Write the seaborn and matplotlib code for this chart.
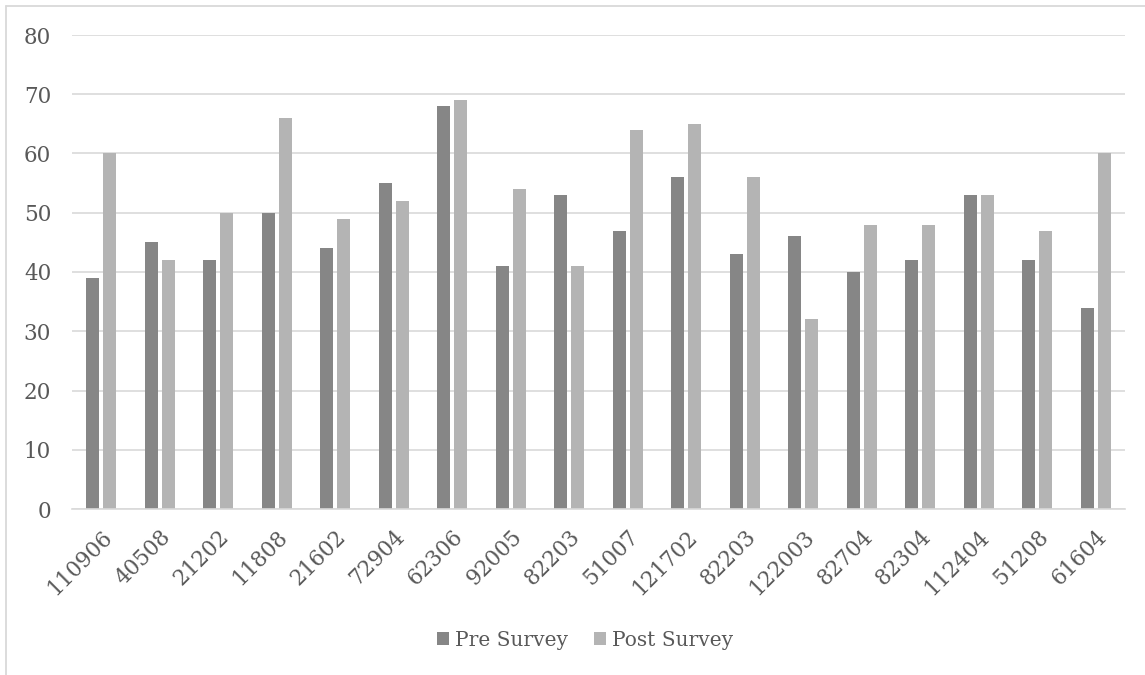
import matplotlib
matplotlib.use("Agg")
import matplotlib.pyplot as plt
from matplotlib.lines import Line2D
import seaborn as sns
import pandas as pd

# Survey IDs and scores
survey_ids = ["110906", "40508", "21202", "11808", "21602", "72904", "62306",
              "92005", "82203", "51007", "121702", "82203", "122003", "82704",
              "82304", "112404", "51208", "61604"]
pre_scores = [39, 45, 42, 50, 44, 55, 68, 41, 53, 47, 56, 43, 46, 40, 42, 53, 42, 34]
post_scores = [60, 42, 50, 66, 49, 52, 69, 54, 41, 64, 65, 56, 32, 48, 48, 53, 47, 60]
series_names = ["Pre Survey", "Post Survey"]
y_ticks = [0, 10, 20, 30, 40, 50, 60, 70, 80]

sns.set_theme(style="white")
plt.rcParams["font.family"] = ["DejaVu Serif"]

# Long-format table; position index keeps repeated IDs as separate columns
rows = []
for i, (pre, post) in enumerate(zip(pre_scores, post_scores)):
    rows.append({"pos": i, "survey": series_names[0], "score": pre})
    rows.append({"pos": i, "survey": series_names[1], "score": post})
df = pd.DataFrame(rows)

W, H = 1145, 675
fig = plt.figure(figsize=(W / 100, H / 100), dpi=100)
ax = fig.add_axes([72 / W, 1 - 509 / H, (1125 - 72) / W, (509 - 35) / H])

sns.barplot(data=df, x="pos", y="score", hue="survey", hue_order=series_names,
            palette=["#868686", "#b4b4b4"], width=0.58, gap=0.22,
            saturation=1, linewidth=0, ax=ax, legend=True)

ax.set_ylim(0, 80)
ax.set_xlim(-0.5, len(survey_ids) - 0.5)
ax.set_yticks(y_ticks)
ax.set_yticklabels([str(t) for t in y_ticks])
ax.set_xticks(range(len(survey_ids)))
ax.set_xticklabels(survey_ids, rotation=45, ha="right", rotation_mode="anchor")
ax.tick_params(axis="both", length=0, labelsize=15.5, colors="#595959")
ax.tick_params(axis="x", pad=12)
ax.tick_params(axis="y", pad=15)
ax.set_xlabel("")
ax.set_ylabel("")

ax.yaxis.grid(True, color="#d9d9d9", linewidth=1.2)
ax.set_axisbelow(True)
for side in ["top", "right", "left"]:
    ax.spines[side].set_visible(False)
ax.spines["bottom"].set_color("#d9d9d9")
ax.spines["bottom"].set_linewidth(1.2)

# Legend below the plot
handles, labels = ax.get_legend_handles_labels()
ax.legend_.remove()
fig.legend(handles, labels, loc="center", bbox_to_anchor=(585 / W, 1 - 640 / H),
           ncol=2, frameon=False, fontsize=14.5, labelcolor="#595959",
           handlelength=0.6, handleheight=0.6, handletextpad=0.3, columnspacing=1.3)

# Chart area border (top and left edges)
fig.add_artist(Line2D([6 / W, 1], [1 - 6 / H, 1 - 6 / H], color="#d9d9d9", linewidth=1.3))
fig.add_artist(Line2D([6 / W, 6 / W], [0, 1 - 6 / H], color="#d9d9d9", linewidth=1.3))

fig.savefig("out.png", dpi=100)
